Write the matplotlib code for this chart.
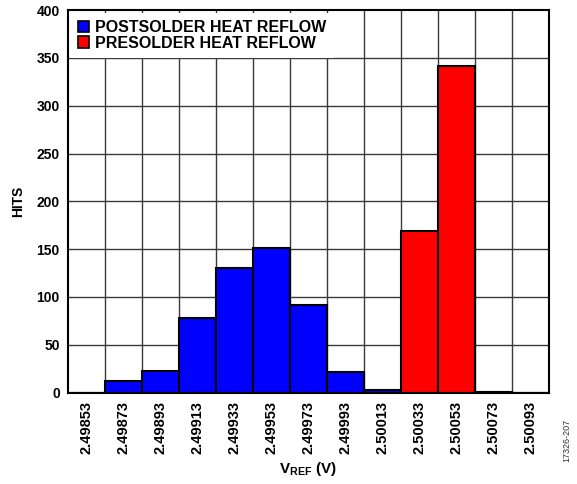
import matplotlib
matplotlib.use("Agg")
import matplotlib.pyplot as plt
import numpy as np

plt.rcParams["font.family"] = ["Liberation Sans", "DejaVu Sans"]
plt.rcParams["mathtext.fontset"] = "custom"
plt.rcParams["mathtext.rm"] = "Liberation Sans:bold"
plt.rcParams["mathtext.bf"] = "Liberation Sans:bold"

# bin labels (V) and hit counts
vref_labels = ["2.49853", "2.49873", "2.49893", "2.49913", "2.49933", "2.49953",
               "2.49973", "2.49993", "2.50013", "2.50033", "2.50053", "2.50073",
               "2.50093"]
post_hits = [0, 12, 22, 78, 130, 151, 92, 21, 3, 0, 0, 0, 0]
pre_hits = [0, 0, 0, 0, 0, 0, 0, 0, 0, 169, 342, 1, 0]

fig = plt.figure(figsize=(5.77, 4.84), dpi=100)
ax = fig.add_axes([0.118, 0.189, 0.833, 0.790])

x = np.arange(len(vref_labels))
ax.bar(x, post_hits, width=1.0, color="#0000FF", edgecolor="black",
       linewidth=1.5, label="POSTSOLDER HEAT REFLOW", zorder=3)
ax.bar(x, pre_hits, width=1.0, color="#FF0000", edgecolor="black",
       linewidth=1.5, label="PRESOLDER HEAT REFLOW", zorder=3)

# grid lines at bin boundaries and every 50 hits
for b in np.arange(0.5, len(vref_labels) - 0.5, 1.0):
    ax.axvline(b, color="#3a3a3a", linewidth=1.0, zorder=1)
for h in range(50, 400, 50):
    ax.axhline(h, color="#3a3a3a", linewidth=1.0, zorder=1)

ax.set_xlim(-0.5, len(vref_labels) - 0.5)
ax.set_ylim(0, 400)
ax.set_yticks(range(0, 401, 50))
ax.set_xticks(x)
ax.set_xticklabels(vref_labels, rotation=90, fontsize=10.5, fontweight="bold")
for lab in ax.get_yticklabels():
    lab.set_fontweight("bold")
    lab.set_fontsize(10)
ax.tick_params(length=0, pad=6)

for s in ax.spines.values():
    s.set_linewidth(1.5)
    s.set_zorder(5)

ax.set_ylabel("HITS", fontsize=10, fontweight="bold", labelpad=8)
ax.set_xlabel(r"$\mathrm{V}_{\mathrm{REF}}$ (V)", fontsize=11, fontweight="bold",
              labelpad=4)

leg = ax.legend(loc="upper left", bbox_to_anchor=(0.0, 1.0), borderaxespad=0.15,
                prop={"weight": "bold", "size": 11.5}, handlelength=0.7,
                handleheight=0.7, handletextpad=0.4, labelspacing=0.05,
                frameon=True, fancybox=False, framealpha=1.0, borderpad=0.45)
leg.get_frame().set_edgecolor("none")
leg.get_frame().set_facecolor("white")
leg.set_zorder(4)
leg._legend_box.set_offset  # keep default placement
for p in leg.get_patches():
    p.set_linewidth(1.2)

fig.text(0.982, 0.09, "17326-207", rotation=90, fontsize=6.5, color="#333333",
         ha="center", va="center")

fig.savefig("out.png", dpi=100)
